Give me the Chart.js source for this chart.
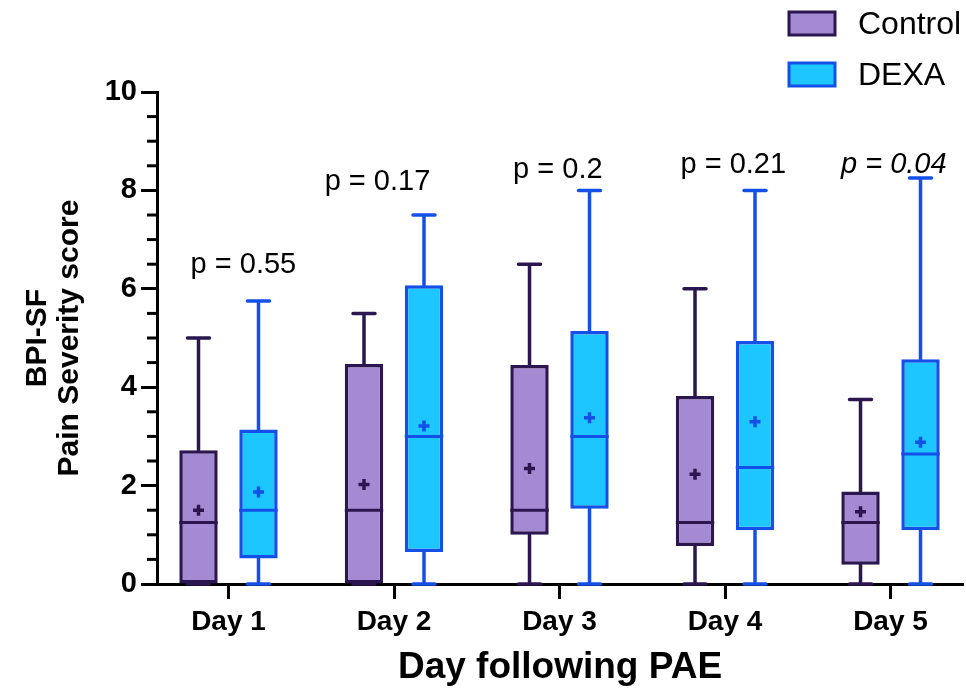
<!DOCTYPE html>
<html>
<head>
<meta charset="utf-8">
<script src="https://cdn.jsdelivr.net/npm/chart.js@4.4.1/dist/chart.umd.min.js"></script>
<style>
    html, body { margin: 0; padding: 0; background: #fff; }
    #wrap { width: 966px; height: 692px; position: relative; }
</style>
</head>
<body>
<div id="wrap"><canvas id="painChart"></canvas></div>
<script>
const days = ['Day 1', 'Day 2', 'Day 3', 'Day 4', 'Day 5'];
const seriesNames = ['Control', 'DEXA'];

// box plot summaries, one value per day
const controlMin = [0, 0, 0, 0, 0];
const controlQ1 = [0, 0, 1.0, 0.77, 0.39];
const controlMedian = [1.25, 1.5, 1.5, 1.25, 1.25];
const controlQ3 = [2.72, 4.47, 4.45, 3.82, 1.88];
const controlMax = [5, 5.5, 6.5, 6, 3.75];
const controlMean = [1.5, 2.02, 2.35, 2.23, 1.47];

const dexaMin = [0, 0, 0, 0, 0];
const dexaQ1 = [0.52, 0.65, 1.53, 1.09, 1.09];
const dexaMedian = [1.5, 3, 3, 2.37, 2.64];
const dexaQ3 = [3.14, 6.07, 5.14, 4.94, 4.57];
const dexaMax = [5.75, 7.5, 8, 8, 8.25];
const dexaMean = [1.87, 3.21, 3.38, 3.3, 2.88];

const pValues = ['p = 0.55', 'p = 0.17', 'p = 0.2', 'p = 0.21', 'p = 0.04'];
const yTickLabels = [0, 2, 4, 6, 8, 10];

const FONT = "'Liberation Sans', Arial, Helvetica, sans-serif";
const colors = {
    Control: { fill: '#a48ad3', line: '#2b1650' },
    DEXA: { fill: '#1dc6ff', line: '#1450e8' }
};

// where the p-value text sits (axis units) and which ones are italic
const pLabelAt = { x: [1.09, 1.9, 2.99, 4.05, 5.02], y: [6.33, 8.0, 8.25, 8.35, 8.35] };
const pItalic = [false, false, false, false, true];

const stats = [
    { min: controlMin, q1: controlQ1, med: controlMedian, q3: controlQ3, max: controlMax, mean: controlMean },
    { min: dexaMin, q1: dexaQ1, med: dexaMedian, q3: dexaQ3, max: dexaMax, mean: dexaMean }
];

function boxData(s) {
    return days.map((d, i) => ({ x: i + 1, y: [s.q1[i], s.q3[i]] }));
}

// --- whiskers, medians, means ---
const boxExtras = {
    id: 'boxExtras',
    beforeDatasetsDraw(chart) {
        const { ctx, scales: { y } } = chart;
        ctx.save();
        ctx.lineWidth = 3.5;
        ctx.lineCap = 'round';
        stats.forEach((s, di) => {
            ctx.strokeStyle = colors[seriesNames[di]].line;
            chart.getDatasetMeta(di).data.forEach((bar, i) => {
                const cx = bar.x;
                const capHalf = 11;
                const yMax = y.getPixelForValue(s.max[i]);
                const yMin = y.getPixelForValue(s.min[i]);
                const yQ3 = y.getPixelForValue(s.q3[i]);
                const yQ1 = y.getPixelForValue(s.q1[i]);
                ctx.beginPath();
                ctx.moveTo(cx, yQ3); ctx.lineTo(cx, yMax);
                ctx.moveTo(cx - capHalf, yMax); ctx.lineTo(cx + capHalf, yMax);
                ctx.moveTo(cx, yQ1); ctx.lineTo(cx, yMin);
                ctx.moveTo(cx - capHalf, yMin); ctx.lineTo(cx + capHalf, yMin);
                ctx.stroke();
            });
        });
        ctx.restore();
    },
    afterDatasetsDraw(chart) {
        const { ctx, scales: { y } } = chart;
        ctx.save();
        stats.forEach((s, di) => {
            ctx.strokeStyle = colors[seriesNames[di]].line;
            chart.getDatasetMeta(di).data.forEach((bar, i) => {
                const half = bar.width / 2;
                const ym = y.getPixelForValue(s.med[i]);
                ctx.lineWidth = 3;
                ctx.lineCap = 'butt';
                ctx.beginPath();
                ctx.moveTo(bar.x - half, ym); ctx.lineTo(bar.x + half, ym);
                ctx.stroke();
                // mean marker
                const yMean = y.getPixelForValue(s.mean[i]);
                ctx.lineWidth = 3.5;
                ctx.beginPath();
                ctx.moveTo(bar.x - 5.5, yMean); ctx.lineTo(bar.x + 5.5, yMean);
                ctx.moveTo(bar.x, yMean - 5.5); ctx.lineTo(bar.x, yMean + 5.5);
                ctx.stroke();
            });
        });
        ctx.restore();
    },
    afterDraw(chart) {
        const { ctx, scales: { x, y } } = chart;
        ctx.save();
        // minor y ticks
        ctx.strokeStyle = '#000';
        ctx.lineWidth = 3;
        y.ticks.forEach(t => {
            if (yTickLabels.includes(t.value)) return;
            const py = y.getPixelForValue(t.value);
            ctx.beginPath();
            ctx.moveTo(y.right - 10, py); ctx.lineTo(y.right, py);
            ctx.stroke();
        });
        // p-values
        ctx.fillStyle = '#000';
        ctx.textAlign = 'center';
        ctx.textBaseline = 'alphabetic';
        pValues.forEach((p, i) => {
            ctx.font = (pItalic[i] ? 'italic ' : '') + '29px ' + FONT;
            ctx.fillText(p, x.getPixelForValue(pLabelAt.x[i]), y.getPixelForValue(pLabelAt.y[i]));
        });
        // legend
        ctx.textAlign = 'left';
        ctx.textBaseline = 'middle';
        ctx.font = '32px ' + FONT;
        seriesNames.forEach((name, i) => {
            const top = 12 + i * 51;
            ctx.fillStyle = colors[name].fill;
            ctx.fillRect(789, top, 46, 23);
            ctx.strokeStyle = colors[name].line;
            ctx.lineWidth = 3;
            ctx.strokeRect(789, top, 46, 23);
            ctx.fillStyle = '#000';
            ctx.fillText(name, 858, top + 13);
        });
        ctx.restore();
    }
};

const painChart = new Chart(document.getElementById('painChart'), {
    type: 'bar',
    data: {
        datasets: seriesNames.map((name, di) => ({
            label: name,
            data: boxData(stats[di]),
            backgroundColor: colors[name].fill,
            borderColor: colors[name].line,
            borderWidth: 3.5,
            borderSkipped: false,
            barPercentage: 0.64,
            categoryPercentage: 0.725
        }))
    },
    options: {
        responsive: true,
        maintainAspectRatio: false,
        animation: false,
        layout: { padding: { top: 92, right: 3, left: 0, bottom: 0 } },
        plugins: {
            legend: { display: false },
            tooltip: { enabled: false }
        },
        scales: {
            x: {
                type: 'linear',
                min: 0.568,
                max: 5.438,
                offset: false,
                afterBuildTicks: (scale) => { scale.ticks = days.map((d, i) => ({ value: i + 1 })); },
                afterFit: (scale) => { scale.height = 108; },
                border: { color: '#000', width: 3 },
                grid: { offset: false, drawOnChartArea: false, color: '#000', tickLength: 15, tickWidth: 3 },
                ticks: {
                    padding: 6,
                    color: '#000',
                    font: { family: FONT, size: 28, weight: 'bold' },
                    callback: (v) => days[v - 1]
                },
                title: {
                    display: true,
                    text: 'Day following PAE',
                    color: '#000',
                    font: { family: FONT, size: 37, weight: 'bold' },
                    padding: { top: 0, bottom: 2 }
                }
            },
            y: {
                min: 0,
                max: 10,
                afterBuildTicks: (scale) => {
                    const t = [];
                    for (let v = 0; v <= 20; v++) t.push({ value: v / 2 });
                    scale.ticks = t;
                },
                afterFit: (scale) => { scale.width = 157; },
                border: { color: '#000', width: 3 },
                grid: {
                    drawOnChartArea: false,
                    tickLength: 16,
                    tickWidth: 3,
                    tickColor: (c) => yTickLabels.includes(c.tick.value) ? '#000' : 'rgba(0,0,0,0)'
                },
                ticks: {
                    padding: 4,
                    color: '#000',
                    autoSkip: false,
                    font: { family: FONT, size: 29, weight: 'bold' },
                    callback: (v) => yTickLabels.includes(v) ? String(v) : ''
                },
                title: {
                    display: true,
                    text: ['BPI-SF', 'Pain Severity score'],
                    color: '#000',
                    font: { family: FONT, size: 30, weight: 'bold', lineHeight: 1.07 },
                    padding: { top: 22, bottom: 0 }
                }
            }
        }
    },
    plugins: [boxExtras]
});
</script>
</body>
</html>
